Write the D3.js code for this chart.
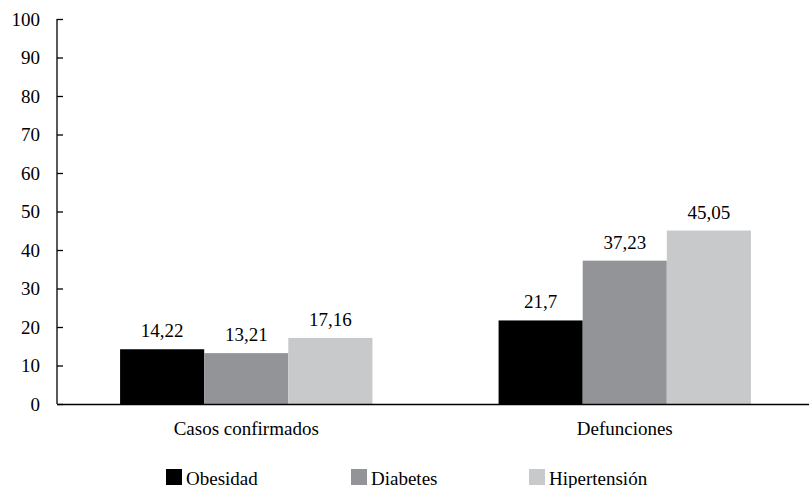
<!DOCTYPE html>
<html lang="es"><head><meta charset="utf-8">
<script src="https://cdn.jsdelivr.net/npm/d3@7"></script>
<style>svg text{font-family:"Liberation Serif","Times New Roman",Times,serif !important;}</style>
</head><body style="margin:0">
<svg id="c" width="809" height="488"></svg>
<script>
const categories = ["Casos confirmados", "Defunciones"];
const seriesNames = ["Obesidad", "Diabetes", "Hipertensi\u00f3n"];
const obesidad = [14.22, 21.7];
const diabetes = [13.21, 37.23];
const hipertension = [17.16, 45.05];
const yTicks = [0,10,20,30,40,50,60,70,80,90,100];
const colors = ["#000000", "#939497", "#c8c9cb"];

const seriesValues = [obesidad, diabetes, hipertension];
const data = categories.map((c, i) => ({cat: c, vals: seriesNames.map((s, j) => ({s, v: seriesValues[j][i], j}))}));

const svg = d3.select("#c");
const mLeft = 57, mRight = 814, mTop = 19, mBottom = 404;
const x0 = d3.scaleBand().domain(categories).range([mLeft, mRight]).padding(0);
const bw = x0.bandwidth();
const x1 = d3.scaleBand().domain(seriesNames).range([bw/6, bw*5/6]).padding(0);
const y = d3.scaleLinear().domain([0, 100]).range([mBottom, mTop]);

// bars
const grp = svg.append("g").selectAll("g").data(data).join("g")
  .attr("transform", d => `translate(${x0(d.cat)},0)`);
grp.selectAll("rect").data(d => d.vals).join("rect")
  .attr("x", d => x1(d.s)).attr("width", x1.bandwidth())
  .attr("y", d => y(d.v)).attr("height", d => y(0) - y(d.v))
  .attr("fill", d => colors[d.j]);
grp.selectAll("text").data(d => d.vals).join("text")
  .attr("x", d => x1(d.s) + x1.bandwidth()/2).attr("y", d => y(d.v) - 12)
  .attr("text-anchor", "middle")
  .attr("font-family", "Liberation Serif").attr("font-size", 19).attr("fill", "#000")
  .text(d => String(d.v).replace(".", ","));

// y axis
const ya = svg.append("g").attr("transform", `translate(${mLeft},0)`)
  .call(d3.axisLeft(y).tickValues(yTicks).tickSize(-6).tickPadding(17));
ya.attr("font-family", "Liberation Serif").attr("font-size", 19);
ya.select(".domain").attr("stroke", "#000").attr("stroke-width", 1.3).attr("d", `M0,${mTop}V${mBottom}`);
ya.selectAll(".tick line").attr("stroke", "#000").attr("stroke-width", 1.3);
ya.selectAll(".tick text").attr("font-family", "Liberation Serif").attr("font-size", 19).attr("fill", "#000");

// x axis
const xa = svg.append("g").attr("transform", `translate(0,${mBottom})`)
  .call(d3.axisBottom(x0).tickSize(0).tickPadding(18));
xa.attr("font-family", "Liberation Serif").attr("font-size", 19);
xa.select(".domain").attr("stroke", "#000").attr("stroke-width", 1.3);
xa.selectAll(".tick text").attr("font-family", "Liberation Serif").attr("font-size", 19).attr("fill", "#000").attr("dy", "0.71em");

// legend
const legX = [166, 351, 529];
const leg = svg.append("g").selectAll("g").data(seriesNames).join("g")
  .attr("transform", (d, i) => `translate(${legX[i]},469)`);
leg.append("rect").attr("width", 16).attr("height", 16).attr("fill", (d, i) => colors[i]);
leg.append("text").attr("x", 20).attr("y", 15.5)
  .attr("font-family", "Liberation Serif").attr("font-size", 19).attr("fill", "#000").text(d => d);
</script>
</body></html>
